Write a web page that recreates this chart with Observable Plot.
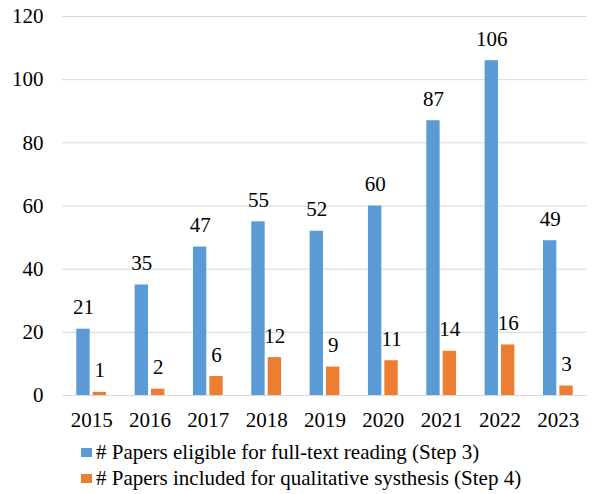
<!DOCTYPE html>
<html>
<head>
<meta charset="utf-8">
<script src="https://cdn.jsdelivr.net/npm/d3@7"></script>
<script src="https://cdn.jsdelivr.net/npm/@observablehq/plot@0.6"></script>
</head>
<body style="margin:0;padding:0;background:#fff;width:592px;height:494px;overflow:hidden;font-family:'Liberation Serif'">
<div id="chart"></div>
<div id="legend" style="margin-left:81px;font-size:21px;color:#000;font-family:'Liberation Serif'"></div>
<script>
const years = ["2015","2016","2017","2018","2019","2020","2021","2022","2023"];
const eligible = [21,35,47,55,52,60,87,106,49];
const included = [1,2,6,12,9,11,14,16,3];
const seriesNames = [
  "# Papers eligible for full-text reading (Step 3)",
  "# Papers included for qualitative systhesis (Step 4)"
];
const colors = ["#5B9BD5", "#ED7D31"];
const yTicks = [0,20,40,60,80,100,120];

const blueData = years.map((y, i) => ({year: y, value: eligible[i]}));
const orangeData = years.map((y, i) => ({year: y, value: included[i]}));

const chart = Plot.plot({
  width: 592,
  height: 439,
  marginTop: 16,
  marginBottom: 44,
  marginLeft: 62,
  marginRight: 5,
  fontFamily: "Liberation Serif",
  style: {fontSize: "21px", color: "#000", background: "#fff"},
  x: {domain: years, paddingInner: 0.49, paddingOuter: 0.245, round: false, label: null},
  y: {domain: [0, 120], label: null},
  marks: [
    Plot.ruleY(yTicks, {stroke: "#d9d9d9", strokeWidth: 1}),
    Plot.barY(blueData, {x: "year", y: "value", fill: colors[0], insetRight: 16.4}),
    Plot.barY(orangeData, {x: "year", y: "value", fill: colors[1], insetLeft: 16.4}),
    Plot.text(blueData, {x: "year", y: "value", text: d => String(d.value), dx: -8.2, dy: -15, lineAnchor: "bottom", fill: "#000", fontSize: 21}),
    Plot.text(orangeData, {x: "year", y: "value", text: d => String(d.value), dx: 8.2, dy: -15, lineAnchor: "bottom", fill: "#000", fontSize: 21}),
    Plot.axisY({ticks: yTicks, tickSize: 0, tickPadding: 19, label: null, fontSize: 21}),
    Plot.axisX({tickSize: 0, tickPadding: 17, label: null, fontSize: 21})
  ]
});
chart.setAttribute("font-family", "Liberation Serif");
document.getElementById("chart").appendChild(chart);

const legend = document.getElementById("legend");
seriesNames.forEach((name, i) => {
  const row = document.createElement("div");
  row.style.cssText = "display:flex;align-items:center;height:26.5px";
  const sw = document.createElement("span");
  sw.style.cssText = `width:11px;height:9px;margin-right:4px;background:${colors[i]}`;
  const label = document.createElement("span");
  label.textContent = name;
  row.appendChild(sw);
  row.appendChild(label);
  legend.appendChild(row);
});
</script>
</body>
</html>
